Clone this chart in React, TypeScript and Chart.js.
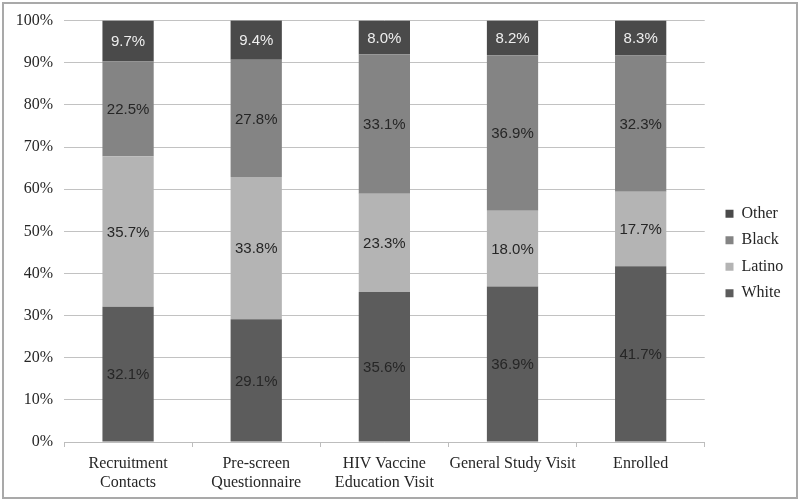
import React, { useEffect, useRef } from "react";
import { Chart, registerables } from "chart.js";

Chart.register(...registerables);

const categories: (string | string[])[] = [
  ["Recruitment", "Contacts"],
  ["Pre-screen", "Questionnaire"],
  ["HIV Vaccine", "Education Visit"],
  "General Study Visit",
  "Enrolled",
];
const white = [32.1, 29.1, 35.6, 36.9, 41.7];
const latino = [35.7, 33.8, 23.3, 18.0, 17.7];
const black = [22.5, 27.8, 33.1, 36.9, 32.3];
const other = [9.7, 9.4, 8.0, 8.2, 8.3];
const seriesNames = ["White", "Latino", "Black", "Other"];
const seriesColors = ["#5c5c5c", "#b4b4b4", "#848484", "#4a4a4a"];
const labelColors = ["#262626", "#262626", "#262626", "#eeeeee"];

const serif = "'Liberation Serif', serif";
const sans = "'Liberation Sans', Arial, sans-serif";

const borderPlugin = {
  id: "outerBorder",
  beforeDraw(chart: any) {
    const ctx = chart.ctx;
    ctx.save();
    ctx.fillStyle = "#ffffff";
    ctx.fillRect(0, 0, chart.width, chart.height);
    ctx.strokeStyle = "#a9a9a9";
    ctx.lineWidth = 2;
    ctx.strokeRect(3, 3, chart.width - 6, chart.height - 6);
    ctx.restore();
  },
};

const legendShift = {
  id: "legendShift",
  afterLayout(chart: any) {
    const l = chart.legend;
    if (l) {
      const d = 715 - l.left;
      l.left += d;
      l.right += d;
    }
  },
};

const valueLabels = {
  id: "valueLabels",
  afterDatasetsDraw(chart: any) {
    const ctx = chart.ctx;
    ctx.save();
    ctx.font = `15px ${sans}`;
    ctx.textAlign = "center";
    ctx.textBaseline = "middle";
    chart.data.datasets.forEach((ds: any, di: number) => {
      const meta = chart.getDatasetMeta(di);
      meta.data.forEach((el: any, i: number) => {
        const { x, y, base } = el.getProps(["x", "y", "base"], true);
        ctx.fillStyle = labelColors[di];
        ctx.fillText(ds.data[i].toFixed(1) + "%", x, (y + base) / 2 + 1);
      });
    });
    ctx.restore();
  },
};

export default function App() {
  const ref = useRef<HTMLCanvasElement>(null);
  useEffect(() => {
    if (!ref.current) return;
    const values = [white, latino, black, other];
    const chart = new Chart(ref.current, {
      type: "bar",
      data: {
        labels: categories,
        datasets: values.map((v, i) => ({
          label: seriesNames[i],
          data: v,
          backgroundColor: seriesColors[i],
          borderWidth: 0,
          barPercentage: 0.4,
          categoryPercentage: 1,
        })),
      },
      options: {
        animation: false,
        responsive: false,
        layout: { padding: { top: 10, left: 4, right: 17, bottom: 4 } },
        plugins: {
          tooltip: { enabled: false },
          legend: {
            position: "right",
            reverse: true,
            labels: {
              boxWidth: 8,
              boxHeight: 8,
              padding: 10.5,
              color: "#262626",
              font: { family: serif, size: 16 },
            },
          },
        },
        scales: {
          x: {
            stacked: true,
            afterFit(s: any) {
              s.height = 55;
            },
            grid: {
              display: true,
              drawOnChartArea: false,
              drawTicks: true,
              tickLength: 5,
              color: "#bdbdbd",
              offset: true,
            },
            border: { display: true, color: "#bdbdbd" },
            ticks: {
              color: "#262626",
              font: { family: serif, size: 16 },
              padding: 7,
              maxRotation: 0,
              autoSkip: false,
            },
          },
          y: {
            stacked: true,
            min: 0,
            max: 100,
            afterFit(s: any) {
              s.width = 60;
            },
            grid: { color: "#c2c2c2", drawTicks: false },
            border: { display: false },
            ticks: {
              stepSize: 10,
              padding: 11,
              color: "#262626",
              font: { family: serif, size: 16 },
              callback: (v: any) => v + "%",
            },
          },
        },
      },
      plugins: [borderPlugin, legendShift, valueLabels],
    });
    return () => chart.destroy();
  }, []);
  return (
    <div style={{ position: "fixed", left: 0, top: 0, width: 800, height: 501 }}>
      <canvas ref={ref} width={800} height={501} />
    </div>
  );
}
